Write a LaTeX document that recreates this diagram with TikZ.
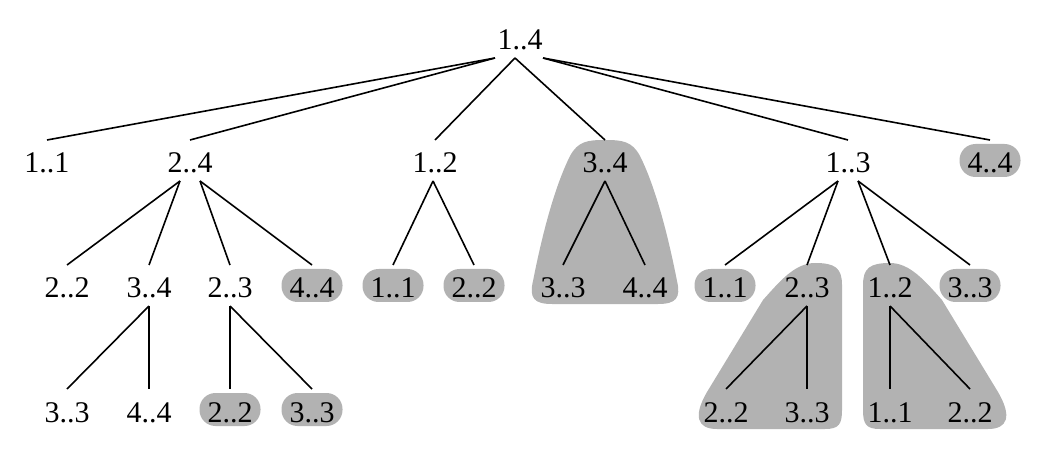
\documentclass[tikz,border=0pt]{standalone}
\usepackage{fontspec}
\setmainfont{Liberation Serif}

\begin{document}
\begin{tikzpicture}[x=0.5pt, y=-0.5pt,
  font=\fontsize{15}{18}\selectfont,
  every node/.style={anchor=base, text height=13.5pt, text depth=1pt,
    inner ysep=1pt, inner xsep=4pt, outer ysep=2pt},
  pill/.style={fill=black!30, rounded corners=8pt},
  blob/.style={fill=black!30},
  link/.style={line width=0.8pt}]
  \useasboundingbox (0,0) rectangle (1058,459);

  % Shaded subtrees (drawn first, behind the tree)
  \fill[blob] (552,304) -- (658,304) .. controls (676,304) and (681,298) .. (677,281)
    .. controls (665,220) and (652,180) .. (640,156)
    .. controls (632,141) and (622,140) .. (605,140)
    .. controls (588,140) and (578,141) .. (570,156)
    .. controls (558,180) and (545,220) .. (533,281)
    .. controls (529,298) and (534,304) .. (552,304) -- cycle;
  \fill[blob] (842,285) .. controls (842,268) and (835,263) .. (815,263)
    .. controls (795,263) and (780,281) .. (763,300) -- (707,392)
    .. controls (693,416) and (697,429) .. (717,429) -- (825,429)
    .. controls (839,429) and (842,424) .. (842,410) -- cycle;
  \fill[blob] (863,285) .. controls (863,268) and (870,263) .. (890,263)
    .. controls (910,263) and (925,281) .. (942,300) -- (998,392)
    .. controls (1012,416) and (1008,429) .. (988,429) -- (880,429)
    .. controls (866,429) and (863,424) .. (863,410) -- cycle;

  % Root
  \node (r) at (520,50) {1..4};

  % Level 1
  \node (a1) at (47,173) {1..1};
  \node (a2) at (190,173) {2..4};
  \node (a3) at (435,173) {1..2};
  \node (a4) at (605,173) {3..4};
  \node (a5) at (848,173) {1..3};
  \node[pill] (a6) at (990,173) {4..4};

  % Level 2
  \node (b1) at (67,298) {2..2};
  \node (b2) at (149,298) {3..4};
  \node (b3) at (230,298) {2..3};
  \node[pill] (b4) at (312,298) {4..4};
  \node[pill] (b5) at (393,298) {1..1};
  \node[pill] (b6) at (474,298) {2..2};
  \node (b7) at (563,298) {3..3};
  \node (b8) at (645,298) {4..4};
  \node[pill] (b9) at (725,298) {1..1};
  \node (b10) at (807,298) {2..3};
  \node (b11) at (890,298) {1..2};
  \node[pill] (b12) at (970,298) {3..3};

  % Level 3
  \node (c1) at (67,422) {3..3};
  \node (c2) at (149,422) {4..4};
  \node[pill] (c3) at (230,422) {2..2};
  \node[pill] (c4) at (312,422) {3..3};
  \node (c5) at (726,422) {2..2};
  \node (c6) at (807,422) {3..3};
  \node (c7) at (890,422) {1..1};
  \node (c8) at (970,422) {2..2};

  % Edges
  \draw[link] ([xshift=-12.5pt]r.south) -- (a1.north);
  \draw[link] ([xshift=-12.5pt]r.south) -- (a2.north);
  \draw[link] ([xshift=-2.5pt]r.south) -- (a3.north);
  \draw[link] ([xshift=-2.5pt]r.south) -- (a4.north);
  \draw[link] ([xshift=11.5pt]r.south) -- (a5.north);
  \draw[link] ([xshift=11.5pt]r.south) -- (a6.north);

  \draw[link] ([xshift=-5pt]a2.south) -- (b1.north);
  \draw[link] ([xshift=-5pt]a2.south) -- (b2.north);
  \draw[link] ([xshift=5pt]a2.south) -- (b3.north);
  \draw[link] ([xshift=5pt]a2.south) -- (b4.north);
  \draw[link] ([xshift=-1pt]a3.south) -- (b5.north);
  \draw[link] ([xshift=-1pt]a3.south) -- (b6.north);
  \draw[link] (a4.south) -- (b7.north);
  \draw[link] (a4.south) -- (b8.north);
  \draw[link] ([xshift=-5pt]a5.south) -- (b9.north);
  \draw[link] ([xshift=-5pt]a5.south) -- (b10.north);
  \draw[link] ([xshift=5pt]a5.south) -- (b11.north);
  \draw[link] ([xshift=5pt]a5.south) -- (b12.north);

  \draw[link] (b2.south) -- (c1.north);
  \draw[link] (b2.south) -- (c2.north);
  \draw[link] (b3.south) -- (c3.north);
  \draw[link] (b3.south) -- (c4.north);
  \draw[link] (b10.south) -- (c5.north);
  \draw[link] (b10.south) -- (c6.north);
  \draw[link] (b11.south) -- (c7.north);
  \draw[link] (b11.south) -- (c8.north);
\end{tikzpicture}
\end{document}
